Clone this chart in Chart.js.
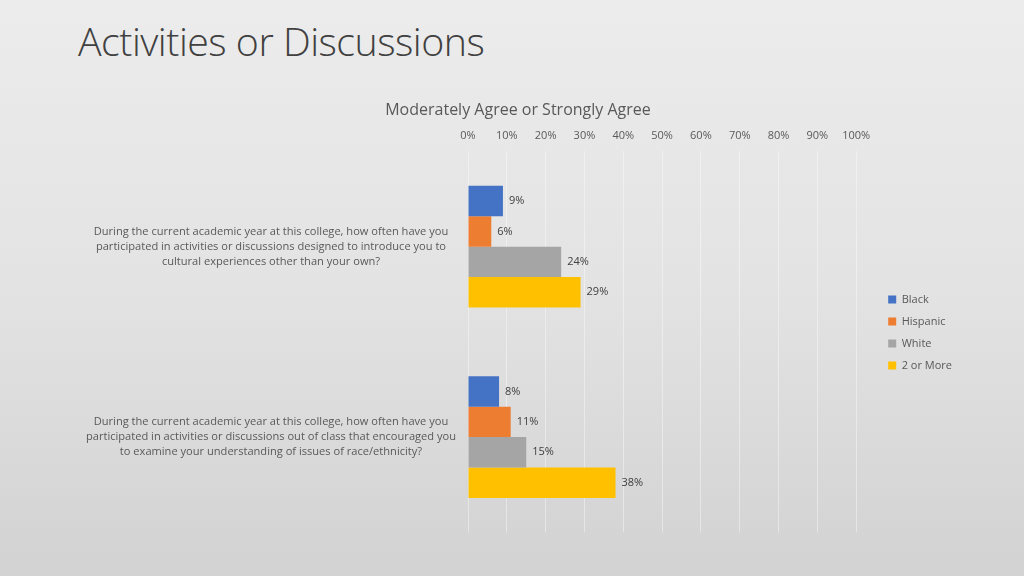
<!DOCTYPE html>
<html>
<head>
<meta charset="utf-8">
<script src="https://cdn.jsdelivr.net/npm/chart.js@4"></script>
<style>
  html, body { margin: 0; padding: 0; }
  body {
    width: 1024px; height: 576px; overflow: hidden;
    background: linear-gradient(180deg, #ececec 0%, #e3e3e3 50%, #d2d2d2 100%);
    font-family: "Open Sans", sans-serif;
    position: relative;
  }
  h1 {
    position: absolute; left: 78px; top: 14px; margin: 0;
    font-family: "Open Sans", sans-serif; font-weight: 300;
    font-size: 39.3px; color: #404040; letter-spacing: -0.5px;
  }
  #wrap { position: absolute; left: 74px; top: 94px; width: 906px; height: 465px; }
</style>
</head>
<body>
<h1>Activities or Discussions</h1>
<div id="wrap"><canvas id="chart"></canvas></div>
<script>
// categories (question text, one line per entry)
const questions = [
    ["During the current academic year at this college, how often have you",
     "participated in activities or discussions designed to introduce you to",
     "cultural experiences other than your own?"],
    ["During the current academic year at this college, how often have you",
     "participated in activities or discussions out of class that encouraged you",
     "to examine your understanding of issues of race/ethnicity?"]
];
const groups = ["Black", "Hispanic", "White", "2 or More"];
const black = [9, 8];
const hispanic = [6, 11];
const white = [24, 15];
const twoOrMore = [29, 38];
const colors = ["#4472C4", "#ED7D31", "#A5A5A5", "#FFC000"];

// draws the value next to the end of each bar
const barValues = {
    id: "barValues",
    afterDatasetsDraw(chart) {
        const ctx = chart.ctx;
        ctx.save();
        ctx.font = "11px 'Open Sans', sans-serif";
        ctx.fillStyle = "#404040";
        ctx.textBaseline = "middle";
        chart.data.datasets.forEach((ds, i) => {
            chart.getDatasetMeta(i).data.forEach((bar, j) => {
                ctx.fillText(ds.data[j] + "%", bar.x + 6, bar.y);
            });
        });
        ctx.restore();
    }
};

new Chart(document.getElementById("chart"), {
    type: "bar",
    data: {
        labels: questions,
        datasets: [black, hispanic, white, twoOrMore].map((vals, i) => ({
            label: groups[i],
            data: vals,
            backgroundColor: colors[i],
            categoryPercentage: 0.64,
            barPercentage: 1.0
        }))
    },
    options: {
        indexAxis: "y",
        responsive: true,
        maintainAspectRatio: false,
        animation: false,
        layout: { padding: { left: 0, right: 18, bottom: 0 } },
        scales: {
            x: {
                position: "top",
                min: 0,
                max: 100,
                ticks: {
                    stepSize: 10,
                    callback: v => v + "%",
                    color: "#595959",
                    font: { size: 11, family: "'Open Sans', sans-serif" },
                    padding: 9
                },
                grid: { color: "rgba(255,255,255,0.4)", drawTicks: false },
                border: { display: false }
            },
            y: {
                ticks: {
                    color: "#595959",
                    font: { size: 11.1, family: "'Open Sans', sans-serif", lineHeight: 1.36 },
                    crossAlign: "center",
                    padding: 4
                },
                grid: { display: false },
                border: { display: false },
                afterFit(scale) { scale.width = 394; }
            },
            // empty spacer between the plot and the legend
            gap: {
                axis: "y",
                position: "right",
                ticks: { display: false },
                grid: { display: false },
                border: { display: false },
                afterFit(scale) { scale.width = 21; }
            }
        },
        plugins: {
            title: {
                display: true,
                text: "Moderately Agree or Strongly Agree",
                color: "#595959",
                font: { size: 16, weight: "normal", family: "'Open Sans', sans-serif" },
                padding: { top: 7, bottom: 0 }
            },
            legend: {
                position: "right",
                // blank title only nudges the legend items down a little
                title: { display: true, text: " ", padding: 0, font: { size: 10 } },
                labels: {
                    boxWidth: 8,
                    boxHeight: 8,
                    padding: 11,
                    color: "#595959",
                    font: { size: 11, family: "'Open Sans', sans-serif" }
                }
            },
            tooltip: { enabled: false }
        }
    },
    plugins: [barValues]
});
</script>
</body>
</html>
